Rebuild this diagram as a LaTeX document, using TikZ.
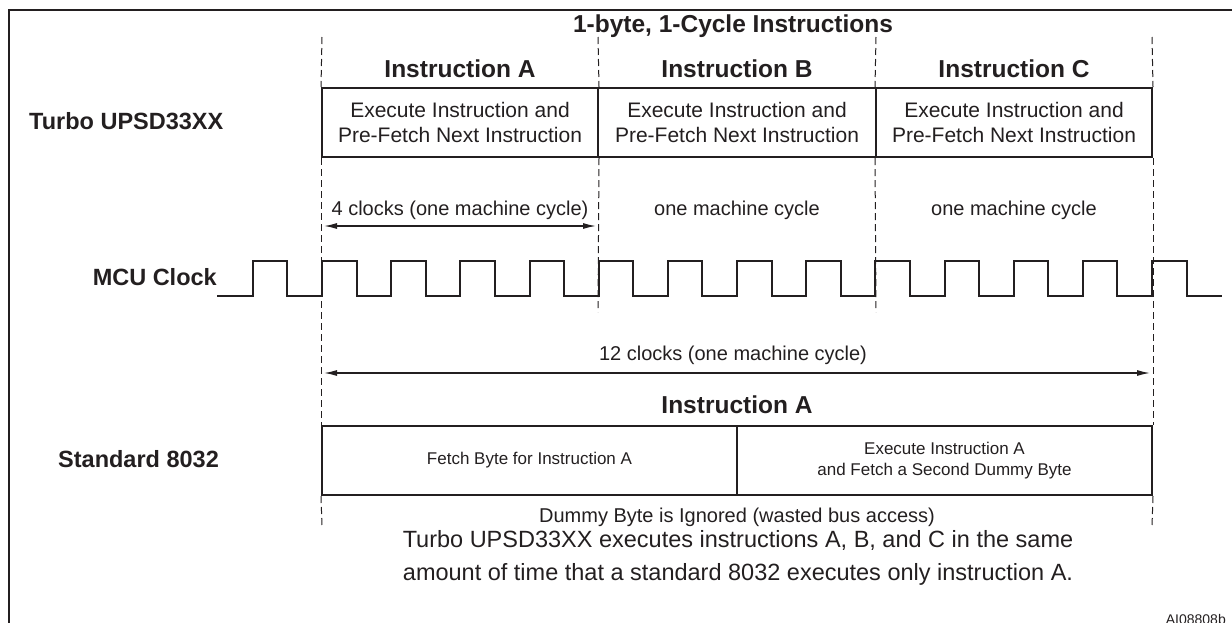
\documentclass[tikz,border=0pt]{standalone}
\usepackage{fontspec}
\setmainfont{Liberation Sans}
\usetikzlibrary{arrows.meta}
\definecolor{ink}{HTML}{231F20}
\begin{document}
\begin{tikzpicture}[x=1pt,y=-1pt,
  every node/.style={inner sep=0pt, text=ink},
  hd/.style={font=\bfseries\fontsize{24.5}{28}\selectfont, anchor=base},
  side/.style={font=\bfseries\fontsize{23.5}{28}\selectfont},
  tbox/.style={draw=ink, line width=2pt, minimum height=69pt, align=center,
    font=\fontsize{21}{24.4}\selectfont},
  sbox/.style={draw=ink, line width=2pt, minimum height=69pt, minimum width=415pt, align=center,
    font=\fontsize{17}{21}\selectfont},
  cyc/.style={font=\fontsize{20}{24}\selectfont, anchor=base},
  para/.style={font=\fontsize{23.5}{28}\selectfont, anchor=base},
  guide/.style={draw=ink, line width=1pt, dash pattern=on 7pt off 4pt},
  dim/.style={draw=ink, line width=1.3pt, {Latex[length=13pt,width=6pt]}-{Latex[length=13pt,width=6pt]}},
  clk/.style={draw=ink, line width=2pt, line join=miter}]
\useasboundingbox (0,0) rectangle (1232,622);
% frame
\draw[ink, line width=2.5pt] (9,640) -- (9,10) -- (1245,10);

% headings
\node[hd] (title) at (733,32) {1-byte, 1-Cycle Instructions};
\node[hd] (ha) at (460,77) {Instruction A};
\node[hd] (hb) at (737,77) {Instruction B};
\node[hd] (hc) at (1014,77) {Instruction C};

% turbo boxes
\node[tbox, minimum width=276pt] (ia) at (460,122.5) {Execute Instruction and\\Pre-Fetch Next Instruction};
\node[tbox, minimum width=278pt] (ib) at (737,122.5) {Execute Instruction and\\Pre-Fetch Next Instruction};
\node[tbox, minimum width=276pt] (ic) at (1014,122.5) {Execute Instruction and\\Pre-Fetch Next Instruction};

% side labels
\node[side, anchor=base west] (lturbo) at (29,129) {Turbo UPSD33XX};
\node[side, anchor=base east] (lclk) at (217,285) {MCU Clock};
\node[side, anchor=base west] (lstd) at (58,467) {Standard 8032};

% cycle labels
\node[cyc] (c4) at (460,215) {4 clocks (one machine cycle)};
\node[cyc] (cb) at (737,215) {one machine cycle};
\node[cyc] (cc) at (1014,215) {one machine cycle};

% standard boxes
\node[sbox] (sa) at (529.5,460.5) {Fetch Byte for Instruction A};
\node[sbox] (sb) at (944.5,460.5) {Execute Instruction A\\and Fetch a Second Dummy Byte};
\node[hd] (hs) at (737,413) {Instruction A};
\node[cyc] (c12) at (733,360) {12 clocks (one machine cycle)};

% guide coordinates
\coordinate (g1t) at (322,37);
\coordinate (g2t) at (598,37);
\coordinate (g3t) at (876,37);
\coordinate (g4t) at (1152,37);
\coordinate (g2b) at (598,312);
\coordinate (g3b) at (876,312);
\coordinate (g1e) at (322,526);
\coordinate (g4e) at (1152,526);

\draw[guide] (g1t) -- (ia.north west);
\draw[guide] (g2t) -- (ia.north east);
\draw[guide] (g3t) -- (ic.north west);
\draw[guide] (g4t) -- (ic.north east);
\draw[guide] (ia.south west) -- (sa.north west);
\draw[guide] (ia.south east) -- (g2b);
\draw[guide] (ic.south west) -- (g3b);
\draw[guide] (ic.south east) -- (sb.north east);
\draw[guide] (sa.south west) -- (g1e);
\draw[guide] (sb.south east) -- (g4e);

% dimension arrows
\coordinate (a4l) at (324,226);
\coordinate (a4r) at (596,226);
\coordinate (a12l) at (324,373);
\coordinate (a12r) at (1150,373);
\draw[dim] (a4l) -- (a4r);
\draw[dim] (a12l) -- (a12r);

% clock
\draw[clk] (217,296)
  \foreach \k in {-1,...,12} {
    -- ({322+69.1667*\k},296) -- ({322+69.1667*\k},261)
    -- ({322+69.1667*\k+34.58},261) -- ({322+69.1667*\k+34.58},296)
  } -- (1222,296);

% notes
\node[cyc] (dummy) at (737,522) {Dummy Byte is Ignored (wasted bus access)};
\node[para] (p1) at (738,547) {Turbo UPSD33XX executes instructions A, B, and C in the same};
\node[para] (p2) at (738,580) {amount of time that a standard 8032 executes only instruction A.};
\node[font=\fontsize{14}{16}\selectfont, anchor=base east] (ref) at (1226,624) {AI08808b};
\end{tikzpicture}
\end{document}
